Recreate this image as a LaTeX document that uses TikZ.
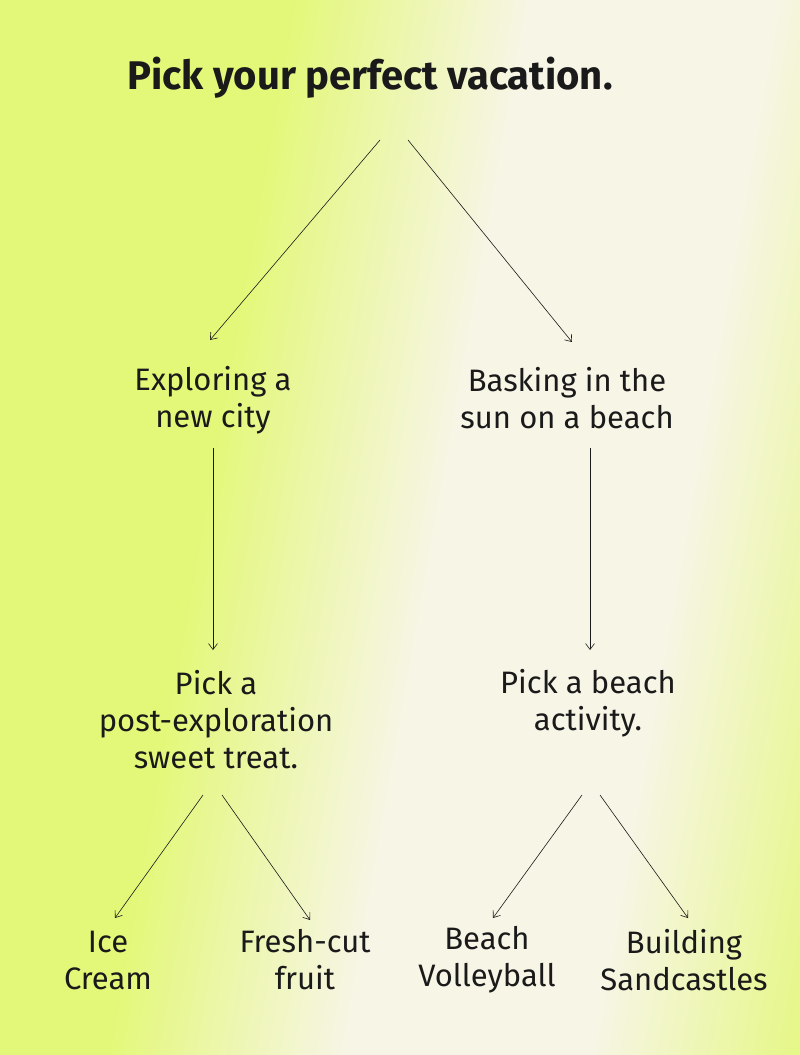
\documentclass[tikz,border=0pt]{standalone}
\usepackage{fontspec}
\setmainfont{Fira Sans}
\usetikzlibrary{arrows.meta}
\definecolor{lime}{HTML}{E3F878}
\definecolor{cream}{HTML}{F7F5E6}
\definecolor{ink}{HTML}{1A1A1A}
\pgfdeclarehorizontalshading{band}{100bp}{color(0bp)=(lime); color(41bp)=(lime); color(47bp)=(cream); color(53bp)=(cream); color(59bp)=(lime); color(100bp)=(lime)}
\begin{document}
\begin{tikzpicture}[x=1pt,y=-1pt,
  lbl/.style={font=\fontsize{31}{37}\selectfont, text=ink, align=center, inner sep=0pt},
  arr/.style={draw=ink, line width=0.6pt, -{Straight Barb[length=6pt,width=9pt]}}]
\useasboundingbox (0,0) rectangle (800,1055);
\fill[lime] (0,0) rectangle (800,1055);
\begin{scope}
\clip (0,0) rectangle (800,1055);
\shade[shading=band, shading angle=-10] (-440,-470) rectangle (1560,1530);
\end{scope}
\node[lbl, font=\fontsize{40}{44}\selectfont\bfseries] (title) at (370,78) {Pick your perfect vacation.};
\node[lbl] (city) at (213,400) {Exploring a\\new city};
\node[lbl] (beach) at (567,398) {Basking in the\\sun on a beach};
\node[lbl] (treat) at (216,720) {Pick a\\post-exploration\\sweet treat.};
\node[lbl] (act) at (588,703) {Pick a beach\\activity.};
\node[lbl] (ice) at (108,960) {Ice\\Cream};
\node[lbl] (fruit) at (305,960) {Fresh-cut\\fruit};
\node[lbl] (volley) at (487,960) {Beach\\Volleyball};
\node[lbl] (sand) at (684,960) {Building\\Sandcastles};
\coordinate (t1) at (380,140); \coordinate (t2) at (408,140);
\coordinate (c1) at (210,340); \coordinate (b1) at (572,342);
\coordinate (c2) at (213,448); \coordinate (c3) at (213,650);
\coordinate (b2) at (590,448); \coordinate (b3) at (590,650);
\coordinate (p1) at (203,795); \coordinate (p2) at (222,795);
\coordinate (a1) at (582,795); \coordinate (a2) at (600,795);
\coordinate (i1) at (115,918); \coordinate (f1) at (310,920);
\coordinate (v1) at (493,918); \coordinate (s1) at (688,918);
\draw[arr] (t1) -- (c1);
\draw[arr] (t2) -- (b1);
\draw[arr] (c2) -- (c3);
\draw[arr] (b2) -- (b3);
\draw[arr] (p1) -- (i1);
\draw[arr] (p2) -- (f1);
\draw[arr] (a1) -- (v1);
\draw[arr] (a2) -- (s1);
\end{tikzpicture}
\end{document}
